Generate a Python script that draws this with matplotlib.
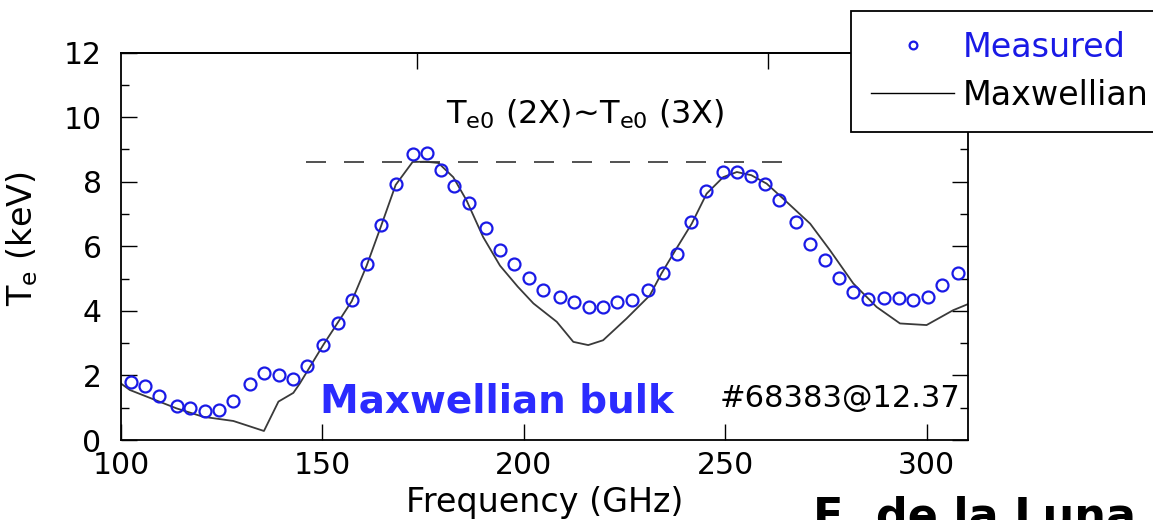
import matplotlib
matplotlib.use('Agg')
import matplotlib.pyplot as plt

plt.rcParams['font.family'] = ['DejaVu Sans']
plt.rcParams['mathtext.default'] = 'regular'

# measured points (open circles)
freq_meas = [102.4, 106.0, 109.5, 113.8, 117.1, 120.9, 124.3, 127.9, 132.0, 135.5,
             139.2, 142.6, 146.3, 150.2, 153.9, 157.3, 161.0, 164.5, 168.2, 172.4,
             175.9, 179.4, 182.8, 186.5, 190.6, 194.0, 197.6, 201.4, 204.8, 209.0,
             212.5, 216.2, 219.6, 223.2, 226.8, 230.8, 234.5, 238.1, 241.5, 245.2,
             249.4, 252.9, 256.4, 259.9, 263.4, 267.5, 271.1, 274.8, 278.3, 281.8,
             285.4, 289.5, 293.2, 296.7, 300.3, 303.9, 307.9]
te_meas = [1.80, 1.68, 1.37, 1.06, 0.98, 0.91, 0.92, 1.22, 1.74, 2.09,
           2.02, 1.88, 2.29, 2.94, 3.63, 4.35, 5.46, 6.65, 7.94, 8.85,
           8.90, 8.36, 7.86, 7.34, 6.58, 5.90, 5.44, 5.03, 4.64, 4.43,
           4.26, 4.12, 4.12, 4.26, 4.35, 4.66, 5.18, 5.77, 6.75, 7.71,
           8.30, 8.30, 8.17, 7.94, 7.42, 6.75, 6.06, 5.57, 5.03, 4.57,
           4.36, 4.41, 4.41, 4.35, 4.43, 4.79, 5.18]

# Maxwellian model curve
freq_max = [100.0, 102.2, 113.8, 120.4, 127.9, 135.5, 139.1, 142.8, 144.4, 150.2,
            157.3, 161.0, 164.5, 168.2, 172.4, 175.5, 178.8, 182.5, 185.8, 189.9,
            194.1, 198.5, 202.4, 208.2, 212.3, 216.0, 219.7, 225.5, 231.3, 234.2,
            238.0, 241.7, 245.4, 249.5, 252.9, 256.5, 260.3, 265.3, 271.1, 276.0,
            281.8, 287.6, 293.4, 300.0, 306.6, 310.3]
te_max = [1.75, 1.55, 0.98, 0.72, 0.59, 0.28, 1.19, 1.46, 1.75, 2.94,
          4.30, 5.40, 6.60, 7.90, 8.61, 8.62, 8.58, 8.14, 7.42, 6.29,
          5.40, 4.75, 4.23, 3.66, 3.04, 2.94, 3.09, 3.76, 4.48, 5.16,
          5.95, 6.70, 7.63, 8.14, 8.30, 8.20, 7.94, 7.37, 6.70, 5.88,
          4.85, 4.12, 3.61, 3.56, 4.02, 4.21]

# dashed reference level
ref_level = 8.6
ref_range = [146, 265]

x_ticks = [100, 150, 200, 250, 300]
y_ticks = [0, 2, 4, 6, 8, 10, 12]
top_ticks = [173.5, 260.7]

fig = plt.figure(figsize=(11.53, 5.2), dpi=100)
ax = fig.add_axes([0.1049, 0.1538, 0.7347, 0.7452])

ax.plot(freq_max, te_max, color='#3a3a3a', lw=1.3, label='Maxwellian', zorder=2)
ax.plot(freq_meas, te_meas, 'o', mfc='none', mec='#1a1ae6', ms=8.6, mew=1.6,
        label='Measured', zorder=3)
ax.plot(ref_range, [ref_level, ref_level], color='#333333', lw=1.2,
        dashes=(12, 10.8))

ax.set_xlim(100, 310.3)
ax.set_ylim(0, 12)
ax.set_xticks(x_ticks)
ax.set_yticks(y_ticks)
ax.set_yticks([1, 3, 5, 7, 9, 11], minor=True)
ax.tick_params(axis='both', which='major', direction='in', length=11.5, width=1.0,
               labelsize=21.5)
ax.tick_params(axis='y', which='both', right=True, direction='in', pad=14)
ax.tick_params(axis='y', which='minor', length=5.8, width=1.0)
ax.tick_params(axis='x', pad=8)
for s in ax.spines.values():
    s.set_linewidth(1.3)

top = ax.secondary_xaxis('top')
top.set_xticks(top_ticks, labels=[])
top.tick_params(direction='in', length=11.5, width=1.0)
top.spines['top'].set_linewidth(1.3)

ax.set_xlabel('Frequency (GHz)', fontsize=24, labelpad=4)
ax.set_ylabel('$T_e$ (keV)', fontsize=24)
ax.yaxis.set_label_coords(-0.095, 0.52)

ax.text(215.2, 9.8, r'$T_{e0}$ (2X)~$T_{e0}$ (3X)', fontsize=23, ha='center',
        va='baseline')
ax.text(149.4, 0.84, 'Maxwellian bulk', fontsize=28, fontweight='bold',
        color='#2b2bff', ha='left', va='baseline')
ax.text(308.3, 1.02, '#68383@12.37', fontsize=22, ha='right', va='baseline')

leg = ax.legend(handles=ax.lines[1::-1], loc='upper left',
                bbox_to_anchor=(851 / 1153, 1 - 11 / 520), bbox_transform=fig.transFigure,
                fontsize=24, frameon=True, fancybox=False, framealpha=1,
                edgecolor='black', handlelength=2.5, handletextpad=0.25,
                borderpad=0.6, labelspacing=0.45, borderaxespad=0, markerscale=0.65)
leg.get_frame().set_linewidth(1.3)
leg.get_texts()[0].set_color('#1a1ae6')
leg.get_lines()[1].set_color('black')
leg.get_lines()[1].set_linewidth(1.0)

fig.text(813 / 1153, 1 - 529 / 520, 'E. de la Luna', fontsize=32, fontweight='bold',
         ha='left', va='baseline')

fig.savefig('out.png', dpi=100, facecolor='white')
